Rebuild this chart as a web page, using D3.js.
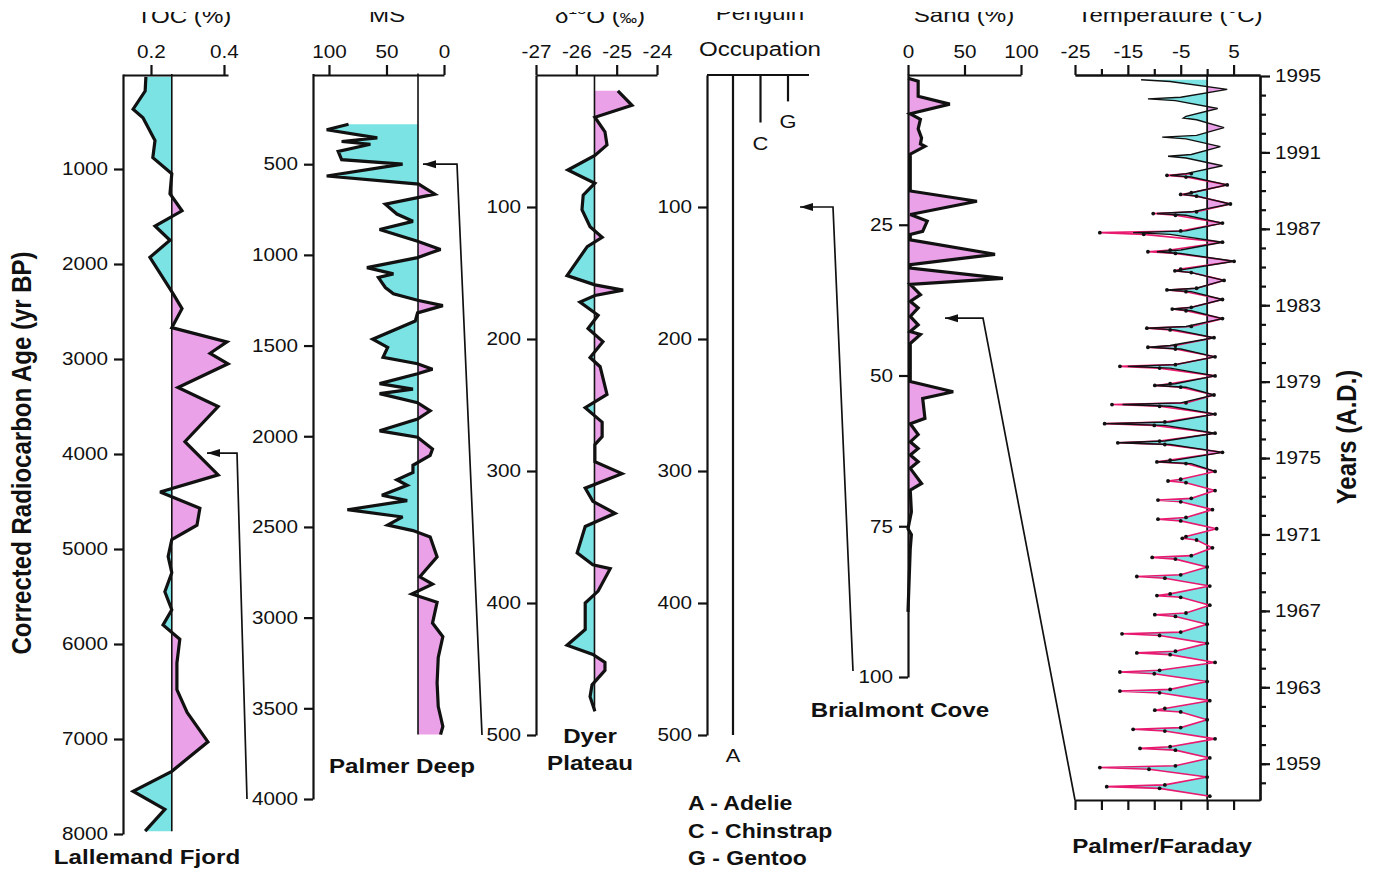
<!DOCTYPE html>
<html>
<head>
<meta charset="utf-8">
<script src="https://cdn.jsdelivr.net/npm/d3@7"></script>
<style>
  body { margin: 0; background: #fff; }
  svg { display: block; }
  text { font-family: "Liberation Sans", Arial, sans-serif; fill: #111; }
</style>
</head>
<body>
<svg width="1373" height="876"></svg>
<script>
// Lallemand Fjord TOC (%) vs corrected radiocarbon age
var tocAge = [30, 180, 370, 460, 700, 880, 1050, 1260, 1440, 1600, 1750, 1930, 2310, 2470, 2670, 2820, 2940, 3050, 3300, 3500,
  3870, 4220, 4400, 4570, 4750, 4900, 5080, 5250, 5450, 5640, 5800, 5950, 6200, 6480, 6720, 7030, 7340, 7550, 7740, 7970];
var tocValue = [0.186, 0.184, 0.151, 0.178, 0.211, 0.205, 0.257, 0.252, 0.285, 0.211, 0.252, 0.197, 0.260, 0.285, 0.257, 0.408, 0.362, 0.411, 0.274, 0.384,
  0.293, 0.384, 0.225, 0.334, 0.326, 0.257, 0.247, 0.257, 0.238, 0.257, 0.233, 0.279, 0.271, 0.271, 0.299, 0.356, 0.257, 0.151, 0.238, 0.184];
var tocBase = 0.257;
var tocTicks = [0.2, 0.4];
var ageTicks = [1000, 2000, 3000, 4000, 5000, 6000, 7000, 8000];

// Palmer Deep magnetic susceptibility
var msDepth = [280, 310, 355, 375, 390, 430, 475, 500, 565, 610, 665, 720, 775, 815, 860, 925, 970, 990, 1015, 1070,
  1105, 1125, 1180, 1215, 1250, 1280, 1320, 1365, 1465, 1510, 1565, 1600, 1630, 1655, 1710, 1740, 1765, 1815, 1860, 1905,
  1970, 2005, 2070, 2105, 2160, 2200, 2240, 2270, 2325, 2355, 2405, 2445, 2490, 2520, 2555, 2665, 2775, 2815, 2870, 2915,
  3030, 3105, 3220, 3360, 3490, 3600, 3645];
var msValue = [83, 102, 58, 89, 64, 92, 89, 36, 102, 22, 8, 51, 41, 27, 56, 23, 3, 12, 23, 67,
  44, 57, 51, 44, 23, 1, 23, 25, 62, 49, 53, 23, 10, 23, 56, 27, 56, 23, 12, 23,
  56, 23, 10, 12, 27, 27, 41, 32, 54, 32, 84, 36, 49, 27, 12, 6, 21, 10, 28, 6,
  10, 1, 5, 6, 5, 1, 3];
var msBase = 22.6;
var msTicks = [100, 50, 0];
var msDepthTicks = [500, 1000, 1500, 2000, 2500, 3000, 3500, 4000];

// Dyer Plateau d18O
var dyerDepth = [12, 23, 32, 43, 53, 61, 72, 82, 91, 102, 115, 123, 130, 152, 159, 163, 167, 172, 182, 192,
  202, 214, 221, 242, 252, 263, 274, 280, 293, 302, 313, 323, 332, 342, 362, 371, 374, 391, 400, 420,
  432, 439, 445, 451, 462, 471, 482];
var dyerValue = [-24.97, -24.62, -25.54, -25.29, -25.24, -25.54, -26.21, -25.54, -25.83, -25.86, -25.66, -25.36, -25.73, -26.23, -25.54, -24.84, -25.54, -25.91, -25.46, -25.71,
  -25.34, -25.66, -25.41, -25.24, -25.78, -25.36, -25.36, -25.54, -25.54, -24.87, -25.78, -25.59, -25.04, -25.78, -25.98, -25.59, -25.16, -25.46, -25.78, -25.78,
  -26.23, -25.59, -25.29, -25.29, -25.61, -25.66, -25.54];
var dyerBase = -25.55;
var dyerTicks = [-27, -26, -25, -24];
var depth500Ticks = [100, 200, 300, 400, 500];

// Penguin occupation (years BP)
var penguinTaxa = ['A', 'C', 'G'];
var penguinEnd = [500, 36, 20];
var penguinNames = ['A - Adelie', 'C - Chinstrap', 'G - Gentoo'];

// Brialmont Cove sand (%)
var sandDepth = [0.7, 1.2, 3.7, 5.0, 6.6, 7.5, 9.1, 10.6, 11.6, 12.0, 13.3, 19.4, 21.1, 23.3, 24.4, 26.1, 26.6, 27.5, 29.9, 31.6,
  32.2, 33.9, 34.9, 36.6, 37.7, 38.8, 40.2, 41.6, 42.7, 43.2, 44.7, 51.0, 52.7, 53.8, 57.1, 58.0, 59.8, 61.0, 62.1, 63.2,
  64.3, 65.4, 67.9, 69.0, 72.6, 75.4, 76.4, 78.7, 89.2];
var sandValue = [0, 9, 9, 37, 2, 11, 9, 12, 11, 15, 2, 2, 61, 2, 17, 13, 2, 2, 77, 2,
  2, 84, 2, 11, 2, 9, 2, 9, 2, 11, 2, 2, 40, 13, 15, 2, 9, 2, 9, 2,
  9, 2, 12, 2, 3, 0, 3, 2, 0];
var sandTicks = [0, 50, 100];
var sandDepthTicks = [25, 50, 75, 100];

// Palmer / Faraday temperature: per year summer max, autumn, winter min, spring
var faradayStart = 1957;
var faradayMax = [0.5, 0.0, 0.5, 1.5, 0.0, 0.5, 0.0, 1.5, 0.0, 0.0, 0.5, 0.5, 0.0, 1.0, 1.8, 1.0, 1.5, 1.5, 2.9, 1.5, 1.5, 1.3, 1.5, 1.5, 1.3, 2.9, 2.9, 3.2, 5.1, 2.9, 2.9, 4.4, 3.8];
var faradayAutumn = [-9, -11, -6, -8, -5, -9, -10, -7, -9, -6, -5, -8, -6, -2, -5, -5, -4, -4, -8, -10, -9, -5, -9, -6, -7, -4, -4, -3, -6, -12, -6, -2, -4];
var faradayMin = [-19.0, -20.3, -12.7, -14.0, -9.9, -16.5, -16.5, -13.3, -16.1, -9.9, -9.5, -13.3, -10.4, -4.7, -9.3, -9.3, -7.4, -9.5, -16.9, -19.4, -18.0, -9.9, -16.5, -11.2, -11.4, -6.6, -7.6, -6.1, -11.2, -20.3, -10.2, -5.0, -7.6];
var faradaySpring = [-8, -6, -7, -5, -8, -7, -9, -6, -5, -4, -7, -5, -3, -4, -4, -3, -5, -7, -9, -8, -4, -7, -6, -6, -3, -3, -2, -5, -7, -5, -2, -3, -3];
var palmerStart = 1974;
var palmerMax = [1.5, 2.9, 1.5, 1.5, 1.3, 1.5, 1.5, 1.3, 2.9, 2.9, 3.2, 5.1, 2.9, 2.9, 4.4, 3.8, 2.9, 2.5, 3.2, 2.0, 3.8];
var palmerAutumn = [-3, -7, -8, -7, -4, -7, -5, -6, -3, -3, -3, -5, -7, -4, -2, -3, -4, -4, -2, -6, -7];
var palmerMin = [-9.5, -16.9, -19.4, -16.0, -9.9, -15.0, -11.0, -11.4, -6.6, -7.6, -6.1, -9.5, -14.0, -9.5, -4.5, -7.0, -7.4, -8.5, -4.5, -11.2, -12.5];
var palmerSpring = [-6, -8, -7, -5, -6, -6, -7, -4, -3, -2, -4, -5, -4, -3, -3, -4, -3, -2, -4, -5, -6];
var tempTicks = [-25, -15, -5, 5];
var tempMinorTicks = [-20, -10, 0];
var tempBottomTicks = [-25, -20, -15, -10, -5, 0, 5];
var yearTicks = [1959, 1963, 1967, 1971, 1975, 1979, 1983, 1987, 1991, 1995];
var yearMinorTicks = d3.range(1958, 1995);

var svg = d3.select('svg');
var cyan = '#7be3e4', pink = '#eba1e8', red = '#e8196f';
var font = '"Liberation Sans", Arial, sans-serif';
var stretch = ' scale(1.15,1)';
var defs = svg.append('defs');

defs.append('clipPath').attr('id', 'titleClip')
  .append('rect').attr('x', 0).attr('y', 12).attr('width', 1373).attr('height', 900);

defs.append('marker').attr('id', 'arrow')
  .attr('viewBox', '0 -5 13 10').attr('refX', 13).attr('refY', 0)
  .attr('markerWidth', 13).attr('markerHeight', 10)
  .attr('markerUnits', 'userSpaceOnUse').attr('orient', 'auto')
  .append('path').attr('d', 'M0,-4L13,0L0,4Z').attr('fill', '#111');

function label(x, y, txt, size, weight, anchor, rot) {
  return svg.append('text')
    .attr('transform', 'translate(' + x + ',' + y + ')' + stretch + (rot ? ' rotate(' + rot + ')' : ''))
    .attr('text-anchor', anchor || 'middle')
    .attr('font-size', size)
    .attr('font-weight', weight || 'normal')
    .text(txt);
}

function axis(g, ax, labels) {
  g.call(ax);
  g.attr('font-family', font).attr('font-size', 18);
  g.select('.domain').attr('stroke', '#111').attr('stroke-width', 2.2);
  g.selectAll('.tick line').attr('stroke', '#111').attr('stroke-width', 2.2);
  g.selectAll('.tick text').attr('fill', '#111').attr('transform', 'scale(1.15,1)');
  if (labels === false) g.selectAll('.tick text').remove();
  return g;
}

function fillProfile(key, pts, x, y, base) {
  var bx = x(base);
  defs.append('clipPath').attr('id', key + 'L')
    .append('rect').attr('x', 0).attr('y', 0).attr('width', bx).attr('height', 876);
  defs.append('clipPath').attr('id', key + 'R')
    .append('rect').attr('x', bx).attr('y', 0).attr('width', 1373 - bx).attr('height', 876);
  var area = d3.area().y(function(d) { return y(d[0]); }).x0(bx).x1(function(d) { return x(d[1]); });
  svg.append('path').datum(pts).attr('d', area).attr('fill', cyan).attr('clip-path', 'url(#' + key + 'L)');
  svg.append('path').datum(pts).attr('d', area).attr('fill', pink).attr('clip-path', 'url(#' + key + 'R)');
}

function baseLine(x, y, base, y0, y1, w) {
  svg.append('line')
    .attr('x1', x(base)).attr('x2', x(base))
    .attr('y1', y(y0)).attr('y2', y(y1))
    .attr('stroke', '#111').attr('stroke-width', w || 1.6);
}

function dataLine(pts, x, y, w, color) {
  return svg.append('path').datum(pts)
    .attr('d', d3.line().y(function(d) { return y(d[0]); }).x(function(d) { return x(d[1]); }))
    .attr('fill', 'none').attr('stroke', color || '#111')
    .attr('stroke-width', w).attr('stroke-linejoin', 'miter').attr('stroke-miterlimit', 3);
}

function zipPts(a, b) { return a.map(function(d, i) { return [d, b[i]]; }); }

// ---------- Lallemand Fjord ----------
var xToc = d3.scaleLinear().domain([0.1233, 0.411]).range([123, 228]);
var yAge = d3.scaleLinear().domain([0, 8000]).range([74, 834]);
var tocPts = zipPts(tocAge, tocValue);
fillProfile('toc', tocPts, xToc, yAge, tocBase);
baseLine(xToc, yAge, tocBase, 0, tocAge[tocAge.length - 1]);
dataLine(tocPts, xToc, yAge, 3.2);
axis(svg.append('g').attr('transform', 'translate(0,75)'),
  d3.axisTop(xToc).tickValues(tocTicks).tickSize(10).tickSizeOuter(0).tickPadding(7).tickFormat(d3.format('.1f')));
axis(svg.append('g').attr('transform', 'translate(123,0)'),
  d3.axisLeft(yAge).tickValues(ageTicks).tickSize(9).tickSizeOuter(0).tickPadding(4).tickFormat(String));

// ---------- Palmer Deep ----------
var xMs = d3.scaleLinear().domain([113.9, 0]).range([313, 444]);
var yMs = d3.scaleLinear().domain([0, 4000]).range([73.5, 799]);
var msPts = zipPts(msDepth, msValue);
fillProfile('ms', msPts, xMs, yMs, msBase);
baseLine(xMs, yMs, msBase, 0, msDepth[msDepth.length - 1]);
dataLine(msPts, xMs, yMs, 3.2);
axis(svg.append('g').attr('transform', 'translate(0,75)'),
  d3.axisTop(xMs).tickValues(msTicks).tickSize(10).tickSizeOuter(0).tickPadding(7).tickFormat(String));
axis(svg.append('g').attr('transform', 'translate(313,0)'),
  d3.axisLeft(yMs).tickValues(msDepthTicks).tickSize(9).tickSizeOuter(0).tickPadding(4).tickFormat(String));

// ---------- Dyer Plateau ----------
var xD = d3.scaleLinear().domain([-27, -24]).range([536, 657]);
var yD = d3.scaleLinear().domain([0, 500]).range([75, 735]);
var dyerPts = zipPts(dyerDepth, dyerValue);
fillProfile('dyer', dyerPts, xD, yD, dyerBase);
baseLine(xD, yD, dyerBase, 0, dyerDepth[dyerDepth.length - 1]);
dataLine(dyerPts, xD, yD, 3.2);
axis(svg.append('g').attr('transform', 'translate(0,75)'),
  d3.axisTop(xD).tickValues(dyerTicks).tickSize(10).tickSizeOuter(0).tickPadding(7).tickFormat(String));
axis(svg.append('g').attr('transform', 'translate(536,0)'),
  d3.axisLeft(yD).tickValues(depth500Ticks).tickSize(9).tickSizeOuter(0).tickPadding(4).tickFormat(String));

// ---------- Penguin occupation ----------
var xP = d3.scalePoint().domain(penguinTaxa).range([733, 788]);
var yP = d3.scaleLinear().domain([0, 500]).range([75, 735]);
svg.append('line').attr('x1', 707).attr('x2', 809).attr('y1', 75).attr('y2', 75)
  .attr('stroke', '#111').attr('stroke-width', 2.2);
svg.selectAll('.peng').data(penguinTaxa).enter().append('line')
  .attr('x1', function(d) { return xP(d); }).attr('x2', function(d) { return xP(d); })
  .attr('y1', yP(0)).attr('y2', function(d, i) { return yP(penguinEnd[i]); })
  .attr('stroke', '#111').attr('stroke-width', 2.2);
penguinTaxa.forEach(function(t, i) {
  label(xP(t), yP(penguinEnd[i]) + 27, t, 19);
});
axis(svg.append('g').attr('transform', 'translate(707,0)'),
  d3.axisLeft(yP).tickValues(depth500Ticks).tickSize(9).tickSizeOuter(0).tickPadding(4).tickFormat(String));
penguinNames.forEach(function(n, i) {
  label(688, 810 + i * 27.5, n, 20, 'bold', 'start');
});

// ---------- Brialmont Cove ----------
var xS = d3.scaleLinear().domain([0, 100]).range([908, 1021]);
var yS = d3.scaleLinear().domain([0, 100]).range([74, 677]);
var sandPts = zipPts(sandDepth, sandValue);
fillProfile('sand', sandPts, xS, yS, 0);
dataLine(sandPts, xS, yS, 3.2);
axis(svg.append('g').attr('transform', 'translate(0,75)'),
  d3.axisTop(xS).tickValues(sandTicks).tickSize(10).tickSizeOuter(0).tickPadding(7).tickFormat(String));
axis(svg.append('g').attr('transform', 'translate(908,0)'),
  d3.axisLeft(yS).tickValues(sandDepthTicks).tickSize(9).tickSizeOuter(0).tickPadding(4).tickFormat(String));

// ---------- Palmer / Faraday temperature ----------
// summer max, then autumn / winter min / spring bunched around the winter needle
function seasonal(start, mx, au, mn, sp) {
  var pts = [];
  mx.forEach(function(v, i) {
    var yr = start + i;
    pts.push([yr + 0.3, v], [yr + 0.71, au[i]], [yr + 0.8, mn[i]], [yr + 0.89, sp[i]]);
  });
  return pts.filter(function(p) { return p[0] <= 1995; });
}
var faraday = seasonal(faradayStart, faradayMax, faradayAutumn, faradayMin, faradaySpring);
var palmer = seasonal(palmerStart, palmerMax, palmerAutumn, palmerMin, palmerSpring)
  .filter(function(p) { return p[0] <= 1994.8; });
var tempFill = faraday.filter(function(p) { return p[0] < 1974.5; })
  .concat(palmer.filter(function(p) { return p[0] >= 1974.5; }));

var xT = d3.scaleLinear().domain([-25, 10]).range([1075, 1260]);
var yT = d3.scaleLinear().domain([1957.1, 1995]).range([800, 76]);
fillProfile('temp', tempFill, xT, yT, 0);
baseLine(xT, yT, 0, 1957.1, 1995, 1.8);
dataLine(faraday, xT, yT, 1.6, red);
svg.selectAll('.fdot').data(faraday).enter().append('circle')
  .attr('cx', function(d) { return xT(d[1]); }).attr('cy', function(d) { return yT(d[0]); })
  .attr('r', 1.9).attr('fill', '#111');
dataLine(palmer, xT, yT, 1.4, '#111');

axis(svg.append('g').attr('transform', 'translate(0,75)'),
  d3.axisTop(xT).tickValues(tempTicks).tickSize(10).tickSizeOuter(0).tickPadding(7).tickFormat(String));
axis(svg.append('g').attr('transform', 'translate(0,75)'),
  d3.axisTop(xT).tickValues(tempMinorTicks).tickSize(6).tickSizeOuter(0), false);
axis(svg.append('g').attr('transform', 'translate(0,800)'),
  d3.axisBottom(xT).tickValues(tempBottomTicks).tickSize(10).tickSizeOuter(0), false);
axis(svg.append('g').attr('transform', 'translate(1260,0)'),
  d3.axisRight(yT).tickValues(yearTicks).tickSize(10).tickSizeOuter(0).tickPadding(3).tickFormat(String));
axis(svg.append('g').attr('transform', 'translate(1260,0)'),
  d3.axisRight(yT).tickValues(yearMinorTicks).tickSize(6).tickSizeOuter(0), false);

// ---------- connecting arrows ----------
var arrows = [
  [[247, yMs(4000)], [237, yAge(3990)], [207, yAge(3990)]],
  [[482, yD(500)], [457, yMs(500)], [423, yMs(500)]],
  [[853, yS(99)], [833, yP(100)], [800, yP(100)]],
  [[1075, yT(1957.1)], [983, yS(40.5)], [945, yS(40.5)]]
];
svg.selectAll('.arrow').data(arrows).enter().append('path')
  .attr('d', d3.line())
  .attr('fill', 'none').attr('stroke', '#111').attr('stroke-width', 1.7)
  .attr('marker-end', 'url(#arrow)');

// ---------- titles ----------
var titleG = svg.append('g').attr('clip-path', 'url(#titleClip)');
function topTitle(x, y, txt) {
  return titleG.append('text')
    .attr('transform', 'translate(' + x + ',' + y + ')' + stretch)
    .attr('text-anchor', 'middle').attr('font-size', 21).text(txt);
}
topTitle(184, 23, 'TOC (%)');
topTitle(387, 22, 'MS');
var dt = topTitle(600, 23, 'δ');
dt.append('tspan').attr('font-size', 14).attr('dy', -9).text('18');
dt.append('tspan').attr('dy', 9).text('O (');
dt.append('tspan').attr('font-size', 15).text('‰');
dt.append('tspan').text(')');
topTitle(760, 20, 'Penguin');
topTitle(964, 22, 'Sand (%)');
topTitle(1170, 22, 'Temperature (°C)');
label(760, 56, 'Occupation', 21);

label(147, 864, 'Lallemand Fjord', 21, 'bold');
label(402, 773, 'Palmer Deep', 21, 'bold');
label(590, 743, 'Dyer', 21, 'bold');
label(590, 770, 'Plateau', 21, 'bold');
label(900, 717, 'Brialmont Cove', 21, 'bold');
label(1162, 853, 'Palmer/Faraday', 21, 'bold');

label(31, 453, 'Corrected Radiocarbon Age (yr BP)', 24, 'bold', 'middle', -90);
label(1356, 437, 'Years (A.D.)', 24, 'bold', 'middle', -90);
</script>
</body>
</html>
